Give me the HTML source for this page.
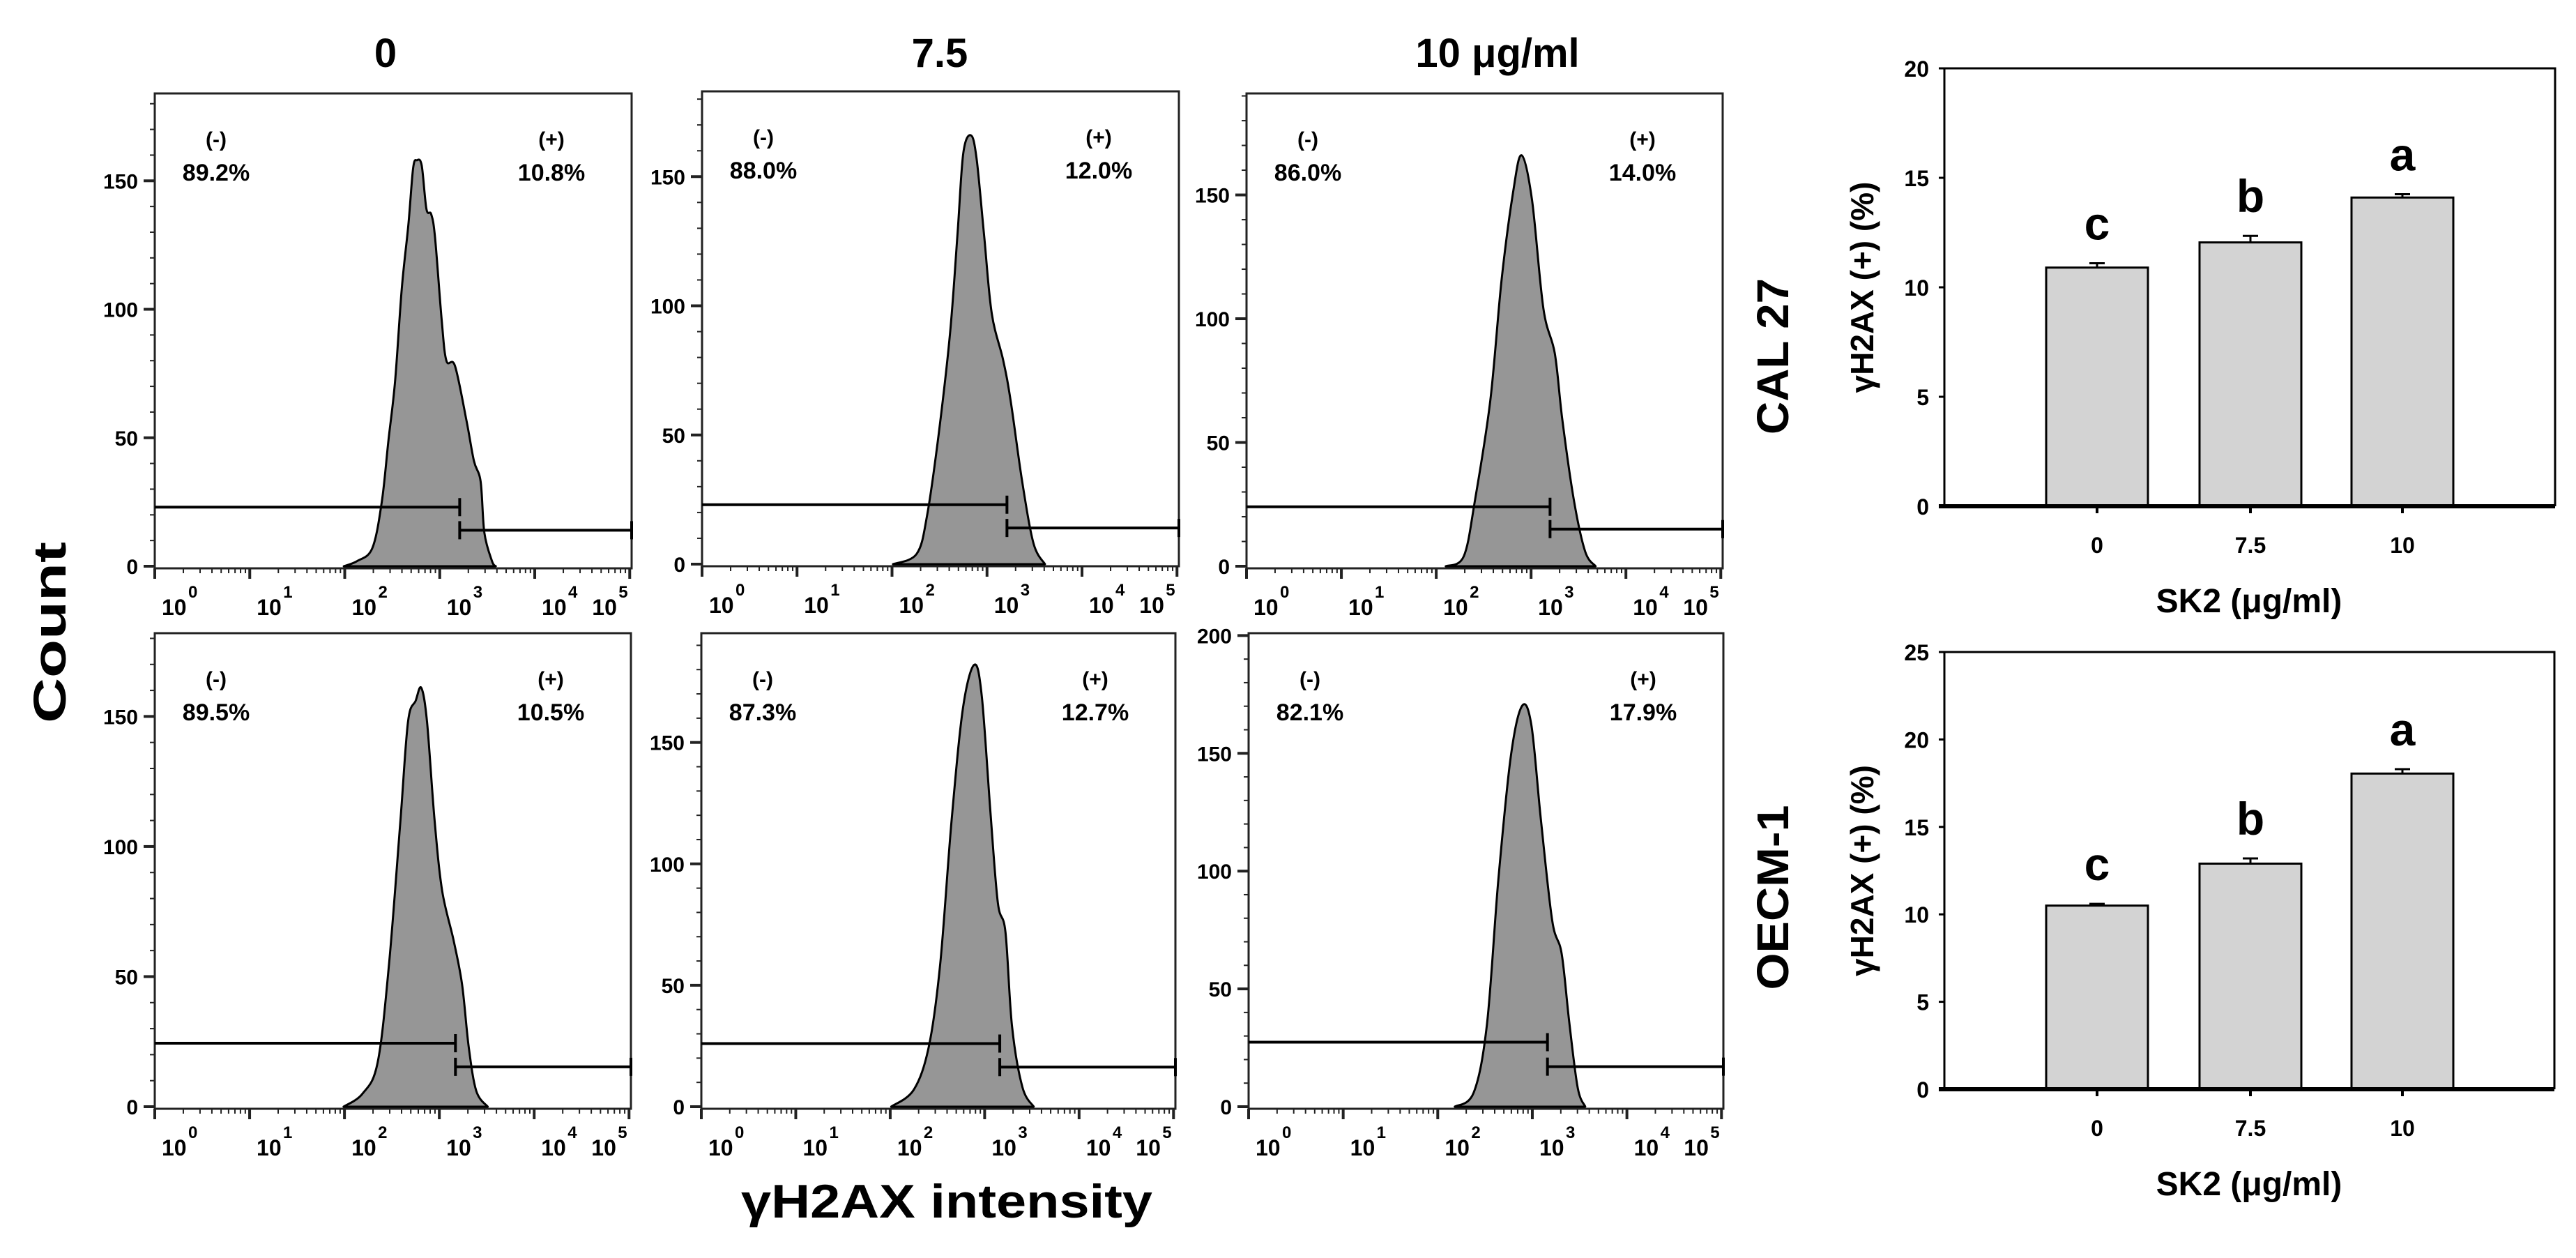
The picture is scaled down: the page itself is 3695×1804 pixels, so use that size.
<!DOCTYPE html>
<html><head><meta charset="utf-8">
<style>
html,body{margin:0;padding:0;background:#fff;}
svg{display:block;font-family:"Liberation Sans",Arial,sans-serif;}
</style></head>
<body>
<svg id="fig" width="3695" height="1804" viewBox="0 0 3695 1804" xmlns="http://www.w3.org/2000/svg">
<rect x="0" y="0" width="3695" height="1804" fill="#fff"/>
<text x="553" y="96" font-size="58" font-weight="bold" text-anchor="middle">0</text>
<text x="1348" y="96" font-size="58" font-weight="bold" text-anchor="middle">7.5</text>
<text x="2148" y="96" font-size="58" font-weight="bold" text-anchor="middle">10 μg/ml</text>
<text transform="translate(94,907) rotate(-90)" font-size="66" font-weight="bold" text-anchor="middle" textLength="260" lengthAdjust="spacingAndGlyphs">Count</text>
<text x="1358" y="1746" font-size="68" font-weight="bold" text-anchor="middle" textLength="590" lengthAdjust="spacingAndGlyphs">γH2AX intensity</text>
<text transform="translate(2565,511) rotate(-90)" font-size="64" font-weight="bold" text-anchor="middle" textLength="224" lengthAdjust="spacingAndGlyphs">CAL 27</text>
<text transform="translate(2565,1287) rotate(-90)" font-size="64" font-weight="bold" text-anchor="middle" textLength="265" lengthAdjust="spacingAndGlyphs">OECM-1</text>
<g id="plots"></g>
</svg>
<script>
// ---- Histogram data (x = log10 intensity, y = count) ----
const h1x = [1.99,2.13,2.29,2.39,2.46,2.53,2.60,2.67,2.72,2.76,2.81,2.86,2.91,2.95,3.02,3.07,3.16,3.28,3.36,3.43,3.47,3.55,3.59];
const h1y = [0,2,7,25,49,72,108,133,155,158,156,139,137,128,96,80,78,57,41,33,13,2,0];
const h2x = [2.01,2.26,2.37,2.49,2.61,2.69,2.75,2.83,2.89,2.97,3.05,3.17,3.25,3.37,3.49,3.61];
const h2y = [0,4,19,50,89,128,159,166,157,127,97,79,63,32,8,0];
const h3x = [2.10,2.29,2.41,2.57,2.69,2.81,2.90,3.01,3.13,3.25,3.33,3.45,3.57,3.68];
const h3y = [0,4,27,67,116,151,166,148,104,86,59,27,6,0];
const h4x = [1.99,2.19,2.35,2.47,2.59,2.67,2.75,2.81,2.87,2.95,3.03,3.15,3.24,3.31,3.39,3.51];
const h4y = [0,5,17,55,110,148,156,161,148,110,83,64,47,23,6,0];
const h5x = [2.01,2.25,2.41,2.53,2.65,2.77,2.89,2.97,3.06,3.14,3.22,3.29,3.40,3.52];
const h5y = [0,7,25,59,118,164,182,169,122,84,72,33,8,0];
const h6x = [2.18,2.38,2.52,2.64,2.77,2.89,2.99,3.09,3.21,3.31,3.39,3.48,3.56];
const h6y = [0,6,35,96,148,170,162,122,79,65,36,8,0];
const negPct = ["89.2%","88.0%","86.0%","89.5%","87.3%","82.1%"];
const posPct = ["10.8%","12.0%","14.0%","10.5%","12.7%","17.9%"];
const gateSplit = [3.21,3.21,3.20,3.17,3.16,3.16];
const gateNegY = [23,23,24,24.4,26,27.4];
const gatePosY = [14,14,15,15.3,16.3,17];
const yMaxes = [184,183,191,182,195,201];
const yTickVals = [[0,50,100,150],[0,50,100,150],[0,50,100,150],[0,50,100,150],[0,50,100,150],[0,50,100,150,200]];
const decadeLabels = ["0","1","2","3","4","5"];
// ---- Bar chart data ----
const barCats = ["0","7.5","10"];
const bar1Vals = [10.9,12.05,14.1];
const bar1Err = [0.2,0.3,0.15];
const bar1Letters = ["c","b","a"];
const bar1Ticks = [0,5,10,15,20];
const bar2Vals = [10.5,12.9,18.05];
const bar2Err = [0.1,0.3,0.25];
const bar2Letters = ["c","b","a"];
const bar2Ticks = [0,5,10,15,20,25];

const NS = "http://www.w3.org/2000/svg";
const root = document.getElementById('plots');
function mk(tag, attrs, parent){
  const e = document.createElementNS(NS, tag);
  for (const k in attrs) e.setAttribute(k, attrs[k]);
  (parent||root).appendChild(e);
  return e;
}
function smoothPath(pts){
  let d = 'M'+pts[0][0].toFixed(1)+','+pts[0][1].toFixed(1);
  for (let i=0;i<pts.length-1;i++){
    const p0 = pts[Math.max(0,i-1)], p1 = pts[i], p2 = pts[i+1], p3 = pts[Math.min(pts.length-1,i+2)];
    const c1x = p1[0]+(p2[0]-p0[0])/6, c1y = p1[1]+(p2[1]-p0[1])/6;
    const c2x = p2[0]-(p3[0]-p1[0])/6, c2y = p2[1]-(p3[1]-p1[1])/6;
    d += ` C${c1x.toFixed(1)},${c1y.toFixed(1)} ${c2x.toFixed(1)},${c2y.toFixed(1)} ${p2[0].toFixed(1)},${p2[1].toFixed(1)}`;
  }
  return d;
}
const hx = [h1x,h2x,h3x,h4x,h5x,h6x];
const hy = [h1y,h2y,h3y,h4y,h5y,h6y];
const frames = [
  {l:222,r:906,t:134,b:812},{l:1007,r:1691,t:131,b:809},{l:1788,r:2471,t:134,b:812},
  {l:222,r:905,t:908,b:1587},{l:1006,r:1686,t:908,b:1587},{l:1791,r:2472,t:908,b:1587}
];
frames.forEach((f,i)=>{
  const g = mk('g',{});
  
  
  const dec = (f.r-f.l)/5.02;
  const X = v => f.l + v*dec;
  const Y = c => f.b - c*(f.b-f.t)/yMaxes[i];
  const fr = mk('rect',{x:f.l,y:f.t,width:f.r-f.l,height:f.b-f.t+3,fill:'none',stroke:'#222','stroke-width':3},g);
  
  
  const pts = hx[i].map((v,j)=>[X(v),Y(hy[i][j])]);
  const d = smoothPath(pts)+' Z';
  const hp = mk('path',{d:d,fill:'#969696',stroke:'#000','stroke-width':3,'stroke-linejoin':'round'},g);
  
  
  const gs = gateSplit[i], gn = Y(gateNegY[i]), gp = Y(gatePosY[i]);
  const gl = mk('path',{d:`M${f.l},${gn} L${X(gs)},${gn} M${X(gs)},${gn-13} L${X(gs)},${gn+13}`,stroke:'#000','stroke-width':4,fill:'none'},g);
  
  
  const gr = mk('path',{d:`M${X(gs)},${gp} L${f.r},${gp} M${X(gs)},${gp-13} L${X(gs)},${gp+13} M${f.r},${gp-13} L${f.r},${gp+13}`,stroke:'#000','stroke-width':4,fill:'none'},g);
  
  
  const nx = f.l + 88, px = f.r - 115;
  [[nx,'(-)',negPct[i],'negative'],[px,'(+)',posPct[i],'positive']].forEach(a=>{
    const t1 = mk('text',{x:a[0],y:f.t+76,'font-size':30,'font-weight':'bold','text-anchor':'middle'},g);
    t1.textContent = a[1];
    
    
    const t2 = mk('text',{x:a[0],y:f.t+125,'font-size':34,'font-weight':'bold','text-anchor':'middle'},g);
    t2.textContent = a[2];
    
    
  });
  for (let c=0;c<=yMaxes[i];c+=10){
    const major = c%50===0;
    mk('line',{x1:f.l-(major?16:7),x2:f.l,y1:Y(c),y2:Y(c),stroke:'#222','stroke-width':major?4:2},g);
  }
  yTickVals[i].forEach(v=>{
    const t = mk('text',{x:f.l-24,y:Y(v)+11,'font-size':30,'font-weight':'bold','text-anchor':'end'},g);
    t.textContent = v;
    
    
  });
  for (let k=0;k<5;k++){
    for (let m=2;m<=9;m++){
      const xx = X(k+Math.log10(m));
      mk('line',{x1:xx,x2:xx,y1:f.b+3,y2:f.b+10,stroke:'#222','stroke-width':2},g);
    }
  }
  decadeLabels.forEach((lab,k)=>{
    const xx = X(k);
    mk('line',{x1:xx,x2:xx,y1:f.b+3,y2:f.b+18,stroke:'#222','stroke-width':4},g);
    const bx = k===5 ? xx-54 : xx+10;
    const t = mk('text',{x:bx,y:f.b+70,'font-size':32,'font-weight':'bold'},g);
    t.textContent = '10';
    
    
    const s = mk('text',{x:bx+38,y:f.b+45,'font-size':24,'font-weight':'bold'},g);
    s.textContent = lab;
    
    
  });
});

function barChart(name, fr, ymax, ticks, vals, errs, letters){
  const g = mk('g',{});
  
  
  const Y = v => fr.b - v*(fr.b-fr.t)/ymax;
  const centers = [3008,3228,3446];
  const bw = 146;
  const box = mk('path',{d:`M${fr.l},${fr.b} L${fr.l},${fr.t} L${fr.r},${fr.t} L${fr.r},${fr.b}`,fill:'none',stroke:'#000','stroke-width':3},g);
  
  
  vals.forEach((v,i)=>{
    const cx = centers[i];
    const r = mk('rect',{x:cx-bw/2,y:Y(v),width:bw,height:fr.b-Y(v),fill:'#d3d3d3',stroke:'#000','stroke-width':3},g);
    
    
    const et = Y(v+errs[i]);
    const e = mk('path',{d:`M${cx},${Y(v)} L${cx},${et} M${cx-11},${et} L${cx+11},${et}`,stroke:'#000','stroke-width':3,fill:'none'},g);
    
    
    const lt = mk('text',{x:cx,y:et-34,'font-size':66,'font-weight':'bold','text-anchor':'middle'},g);
    lt.textContent = letters[i];
    
    
    mk('line',{x1:cx,x2:cx,y1:fr.b,y2:fr.b+10,stroke:'#000','stroke-width':4},g);
    const xt = mk('text',{x:cx,y:fr.b+67,'font-size':32,'font-weight':'bold','text-anchor':'middle'},g);
    xt.textContent = barCats[i];
    
    
  });
  const ax = mk('line',{x1:fr.l-8,x2:fr.r,y1:fr.b,y2:fr.b,stroke:'#000','stroke-width':6},g);
  
  
  ticks.forEach(v=>{
    mk('line',{x1:fr.l-8,x2:fr.l,y1:Y(v),y2:Y(v),stroke:'#000','stroke-width':3},g);
    const t = mk('text',{x:fr.l-22,y:Y(v)+12,'font-size':32,'font-weight':'bold','text-anchor':'end'},g);
    t.textContent = v;
    
    
  });
  const yt = mk('text',{transform:`translate(${fr.l-102},${(fr.t+fr.b)/2}) rotate(-90)`,'font-size':46,'font-weight':'bold','text-anchor':'middle'},g);
  yt.textContent = 'γH2AX (+) (%)';
  
  
  const xt = mk('text',{x:3226,y:fr.b+152,'font-size':48,'font-weight':'bold','text-anchor':'middle'},g);
  xt.textContent = 'SK2 (μg/ml)';
  
  
}
barChart('bar-chart-cal27',{l:2789,r:3665,t:98,b:726},20,bar1Ticks,bar1Vals,bar1Err,bar1Letters);
barChart('bar-chart-oecm1',{l:2789,r:3664,t:935,b:1562},25,bar2Ticks,bar2Vals,bar2Err,bar2Letters);
</script>
</body></html>
